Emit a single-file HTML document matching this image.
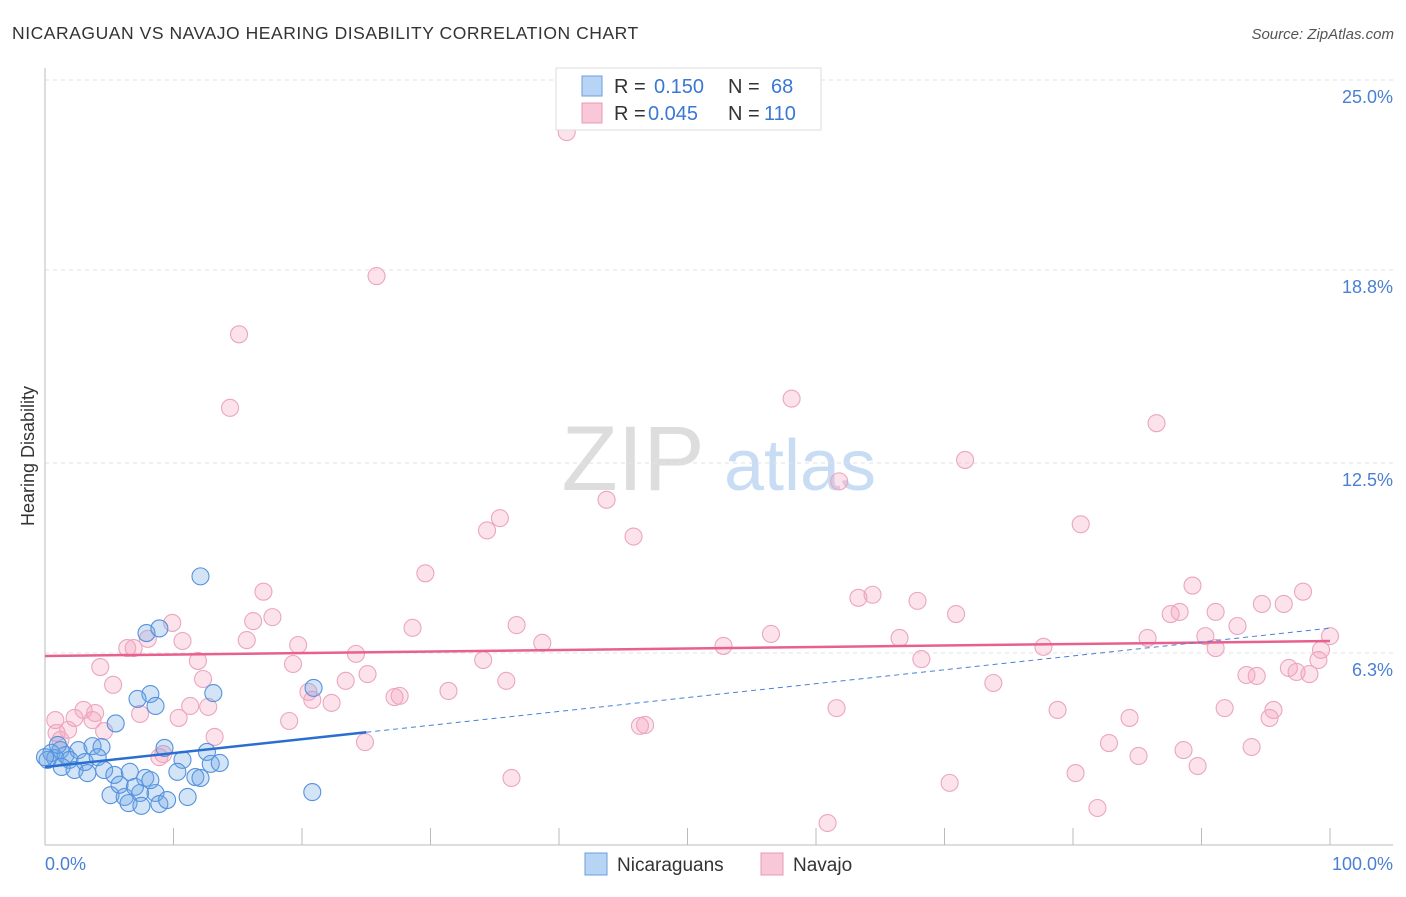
<!DOCTYPE html>
<html><head><meta charset="utf-8"><style>
body{margin:0;background:#fff;font-family:"Liberation Sans",sans-serif}
svg text{font-family:"Liberation Sans",sans-serif}
</style></head><body>
<svg id="chart" width="1406" height="892">
<text x="12" y="39" font-size="17.5" fill="#333" letter-spacing="0.55">NICARAGUAN VS NAVAJO HEARING DISABILITY CORRELATION CHART</text>
<text x="1394" y="39" font-size="15" fill="#555" font-style="italic" text-anchor="end">Source: ZipAtlas.com</text>
<g><text x="633" y="490" font-size="92" fill="#ddd" font-family="Liberation Serif" text-anchor="middle">ZIP</text><text x="800" y="490" font-size="72" fill="#c8dcf4" text-anchor="middle">atlas</text></g>
<g id="grid"></g><g id="axes"></g><g id="marks"></g>
<text transform="translate(34,456) rotate(-90)" font-size="18" fill="#333" text-anchor="middle">Hearing Disability</text>
<text x="45" y="870" font-size="18" fill="#4a7fd4">0.0%</text>
<text x="1393" y="870" font-size="18" fill="#4a7fd4" text-anchor="end">100.0%</text>
<g>
<rect x="556" y="68" width="265" height="62" fill="#fff" stroke="#ddd"/>
<rect x="582" y="76" width="20" height="20" fill="#b8d4f4" stroke="#6a9ee0"/>
<rect x="582" y="103" width="20" height="20" fill="#f8c8d8" stroke="#e898b4"/>
<text y="93" font-size="20" fill="#333"><tspan x="614">R =</tspan><tspan x="654" fill="#3a78d4">0.150</tspan><tspan x="728">N =</tspan><tspan x="771" fill="#3a78d4">68</tspan></text>
<text y="120" font-size="20" fill="#333"><tspan x="614">R =</tspan><tspan x="648" fill="#3a78d4">0.045</tspan><tspan x="728">N =</tspan><tspan x="764" fill="#3a78d4">110</tspan></text>
</g>
<g>
<rect x="585" y="853" width="22" height="22" fill="#b8d4f4" stroke="#6a9ee0"/>
<text x="617" y="871" font-size="19" fill="#333">Nicaraguans</text>
<rect x="761" y="853" width="22" height="22" fill="#f8c8d8" stroke="#e898b4"/>
<text x="793" y="871" font-size="19" fill="#333">Navajo</text>
</g>
</svg>
<script>
const yTicks=[6.3,12.5,18.8,25.0];
const yTickLabels=["6.3%","12.5%","18.8%","25.0%"];
const blueX=[12.1,7.9,8.9,8.2,13.1,7.2,8.6,20.9,5.5,0.5,1.2,0.2,0.8,1.6,2.6,3.7,4.4,9.3,12.6,1.9,3.1,4.1,10.7,12.9,13.6,1.3,2.3,3.3,4.6,5.4,6.6,7.8,10.3,11.7,12.1,5.1,6.2,7.4,8.6,11.1,6.5,7.5,8.9,9.5,20.8,5.8,7.0,8.2,1.0,0];
const blueY=[8.8,6.95,7.1,4.96,4.99,4.8,4.57,5.16,4.0,3.04,3.13,2.81,2.87,2.97,3.13,3.26,3.23,3.2,3.07,2.81,2.74,2.9,2.81,2.68,2.71,2.58,2.48,2.38,2.48,2.32,2.42,2.22,2.42,2.25,2.22,1.66,1.6,1.73,1.73,1.6,1.4,1.31,1.37,1.5,1.76,2.0,1.93,2.15,3.3,2.9];
const pinkX=[40.6,25.8,15.1,14.4,58.1,86.5,71.6,61.8,43.7,35.4,34.4,45.8,80.6,29.6,17.0,89.3,97.9,64.4,63.3,67.9,96.4,94.7,91.1,87.6,88.3,70.9,17.7,16.2,9.9,36.7,28.6,92.8,100,90.3,56.5,66.5,85.8,8.0,10.7,15.7,19.7,38.7,52.8,77.7,6.4,6.9,91.1,99.3,24.2,11.9,68.2,19.3,34.1,99.1,4.3,96.8,97.4,98.4,93.5,94.3,25.1,12.3,23.4,35.9,5.3,73.8,31.4,20.5,27.6,27.2,20.8,11.3,12.7,22.3,61.6,78.8,91.8,3.0,3.9,0.8,2.3,3.7,10.4,7.4,19.0,95.6,84.4,95.3,4.6,1.8,13.2,46.7,46.3,0.9,1.2,24.9,82.8,93.9,88.6,9.2,8.9,85.1,89.7,80.2,36.3,70.4,81.9,60.9];
const pinkY=[23.3,18.6,16.7,14.3,14.6,13.8,12.6,11.9,11.3,10.7,10.3,10.1,10.5,8.9,8.3,8.5,8.3,8.2,8.1,8.0,7.9,7.9,7.64,7.57,7.64,7.57,7.47,7.34,7.28,7.21,7.12,7.18,6.85,6.85,6.92,6.79,6.79,6.76,6.69,6.72,6.56,6.63,6.53,6.5,6.46,6.46,6.46,6.4,6.27,6.04,6.1,5.94,6.07,6.07,5.84,5.81,5.68,5.61,5.58,5.55,5.61,5.45,5.39,5.39,5.26,5.32,5.06,5.03,4.9,4.86,4.77,4.57,4.54,4.67,4.5,4.44,4.5,4.44,4.34,4.11,4.18,4.11,4.18,4.31,4.08,4.44,4.18,4.18,3.75,3.79,3.56,3.95,3.92,3.69,3.46,3.39,3.36,3.23,3.13,3.0,2.9,2.94,2.61,2.38,2.22,2.06,1.24,0.75];
const blueTrend=[2.58,7.11];
const pinkTrend=[6.2,6.69];
const NS="http://www.w3.org/2000/svg";
const xs=v=>45+v*12.85, ys=v=>846-v*30.64;
function mk(t,a,p){const e=document.createElementNS(NS,t);for(const k in a)e.setAttribute(k,a[k]);p.appendChild(e);return e;}
const grid=document.getElementById('grid'),axes=document.getElementById('axes'),marks=document.getElementById('marks');
yTicks.forEach((v,i)=>{const l=mk('line',{x1:45,x2:1393,y1:ys(v),y2:ys(v),stroke:'#e2e2e2','stroke-dasharray':'4,4'},grid);


const t=mk('text',{x:1393,y:ys(v)+23,'font-size':18,fill:'#4a7fd4','text-anchor':'end'},grid);t.textContent=yTickLabels[i];

});
mk('line',{x1:45,x2:45,y1:68,y2:845,stroke:'#bbb'},axes);
mk('line',{x1:45,x2:1393,y1:845,y2:845,stroke:'#bbb'},axes);
for(let i=1;i<=10;i++){const t=mk('line',{x1:xs(i*10),x2:xs(i*10),y1:828,y2:845,stroke:'#bbb'},axes);

}
function dots(X,Y,fill,stroke,name){X.forEach((x,i)=>{const c=mk('circle',{cx:xs(x),cy:ys(Y[i]),r:8.5,fill:fill,stroke:stroke,'stroke-width':1.1},marks);

});}
dots(pinkX,pinkY,'rgba(244,160,190,0.3)','#eba6bf','navajo-point');
dots(blueX,blueY,'rgba(110,165,230,0.3)','#5592de','nicaraguan-point');
const pl=mk('line',{x1:xs(0),y1:ys(pinkTrend[0]),x2:xs(100),y2:ys(pinkTrend[1]),stroke:'#e8608c','stroke-width':2.5},marks);


const bm=v=>blueTrend[0]+(blueTrend[1]-blueTrend[0])*v/100;
const bd=mk('line',{x1:xs(25),y1:ys(bm(25)),x2:xs(100),y2:ys(bm(100)),stroke:'#4a80d8','stroke-width':1,'stroke-dasharray':'5,4'},marks);


const bl=mk('line',{x1:xs(0),y1:ys(bm(0)),x2:xs(25),y2:ys(bm(25)),stroke:'#2a6fd0','stroke-width':2.5},marks);


</script>
</body></html>
